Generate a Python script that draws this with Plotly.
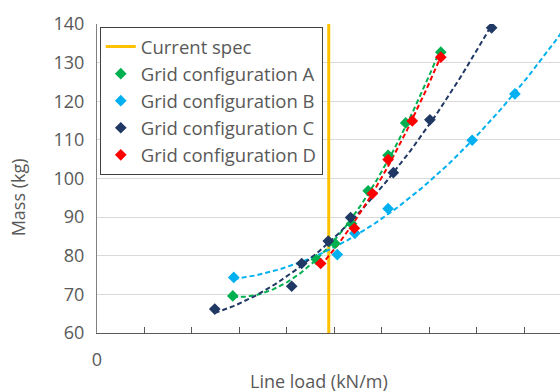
import numpy as np
import plotly.graph_objects as go

# ---- data ----
current_spec_x = 4.88

a_x = [2.86, 4.62, 5.01, 5.36, 5.71, 6.13, 6.50, 7.24]
a_y = [69.6, 79.0, 83.2, 88.3, 96.8, 106.0, 114.4, 132.7]

b_x = [2.88, 5.06, 5.43, 6.13, 7.90, 8.80]
b_y = [74.4, 80.3, 85.8, 92.2, 109.9, 121.9]

c_x = [2.48, 4.10, 4.31, 4.87, 5.34, 6.24, 7.01, 8.31]
c_y = [66.2, 72.1, 78.0, 83.8, 89.9, 101.5, 115.2, 139.0]

d_x = [4.71, 5.42, 5.80, 6.13, 6.64, 7.24]
d_y = [78.0, 87.1, 96.1, 104.9, 114.9, 131.4]

series_names = ["Grid configuration A", "Grid configuration B",
                "Grid configuration C", "Grid configuration D"]
series_colors = ["#00B050", "#00B0F0", "#203864", "#FF0000"]

x_tickvals = list(range(0, 11))
x_ticktext = ["0"] + [""] * 10
y_tickvals = [60, 70, 80, 90, 100, 110, 120, 130, 140]

FONT = "Open Sans"
GREY = "#595959"
FS = 18

fig = go.Figure()

# current spec vertical line
fig.add_trace(go.Scatter(
    x=[current_spec_x, current_spec_x], y=[60, 140], mode="lines",
    line=dict(color="#FFC000", width=3), name="Current spec",
    cliponaxis=False))

series = [(a_x, a_y), (b_x, b_y), (c_x, c_y), (d_x, d_y)]
extend = [None, 10.2, None, None]
for (sx, sy), name, col, ext in zip(series, series_names, series_colors, extend):
    coef = np.polyfit(sx, sy, 2)
    xmax = ext if ext is not None else max(sx)
    xs = np.linspace(min(sx), xmax, 120)
    ys = np.polyval(coef, xs)
    fig.add_trace(go.Scatter(
        x=xs, y=ys, mode="lines", showlegend=False, hoverinfo="skip",
        line=dict(color=col, width=2, dash="5px,3px")))
for (sx, sy), name, col in zip(series, series_names, series_colors):
    fig.add_trace(go.Scatter(
        x=sx, y=sy, mode="markers", name=name,
        marker=dict(symbol="diamond", size=9, color=col,
                    line=dict(width=0))))

fig.update_layout(
    width=560, height=392,
    margin=dict(l=97, r=0, t=24, b=59),
    paper_bgcolor="white", plot_bgcolor="white",
    font=dict(family=FONT, size=FS, color=GREY),
    showlegend=True,
    legend=dict(x=0.006, y=0.99, xanchor="left", yanchor="top",
                bgcolor="white", bordercolor="#404040", borderwidth=1,
                font=dict(family=FONT, size=18.5, color=GREY),
                itemwidth=30, tracegroupgap=0),
    xaxis=dict(range=[0, 9.75], tickvals=x_tickvals, ticktext=x_ticktext,
               ticks="inside", ticklen=6, tickcolor=GREY, tickwidth=1,
               showline=True, linecolor=GREY, linewidth=1.3,
               showgrid=False, zeroline=False, ticklabelstandoff=10,
               tickfont=dict(family=FONT, size=FS, color=GREY)),
    yaxis=dict(range=[60, 140], tickvals=y_tickvals,
               showline=True, linecolor="#808080", linewidth=1,
               showgrid=True, gridcolor="#D9D9D9", gridwidth=1,
               zeroline=False, ticks="", ticklabelstandoff=8,
               tickfont=dict(family=FONT, size=FS, color=GREY)),
    annotations=[
        dict(text="Mass (kg)", xref="paper", yref="paper",
             x=-0.17, y=0.44, xanchor="center", yanchor="middle",
             textangle=-90, showarrow=False,
             font=dict(family=FONT, size=FS, color=GREY)),
        dict(text="Line load (kN/m)", xref="paper", yref="paper",
             x=0.48, y=-0.155, xanchor="center", yanchor="middle",
             showarrow=False,
             font=dict(family=FONT, size=FS, color=GREY)),
    ],
)

fig.write_html("out.html", config={"displayModeBar": False},
               post_script="document.body.style.margin='0';document.body.style.padding='0';")
